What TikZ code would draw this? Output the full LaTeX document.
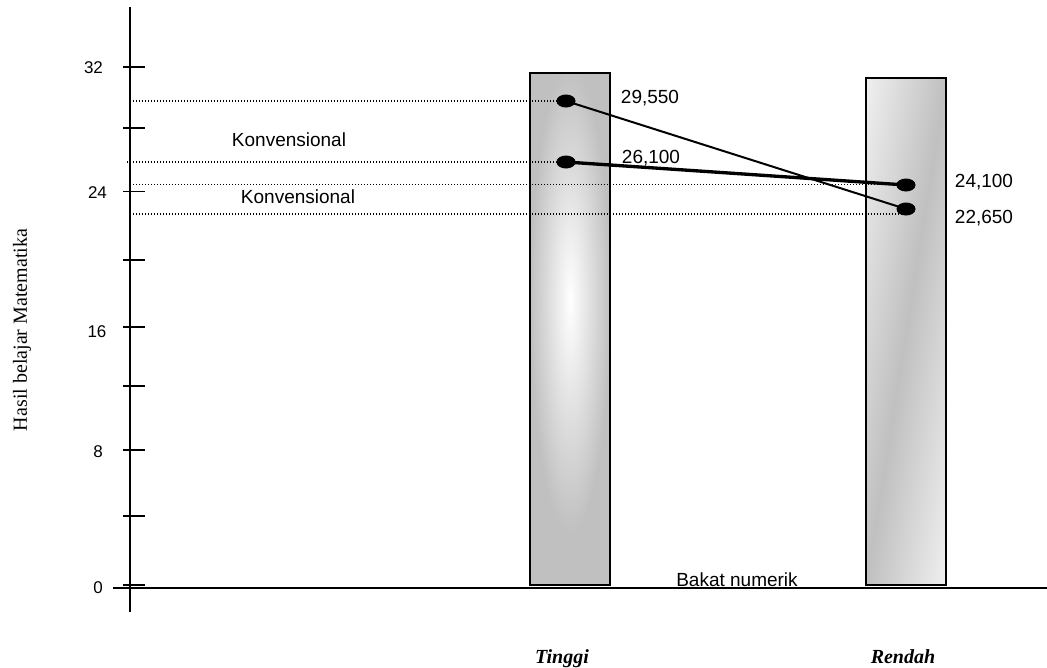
\documentclass[tikz,border=0pt]{standalone}
\usepackage{fontspec}
\setmainfont{Liberation Serif}
\setsansfont{Liberation Sans}
\usetikzlibrary{shapes.geometric}
\definecolor{barg}{HTML}{C0C0C0}
\pgfdeclarehorizontalshading{rendahsh}{100bp}{color(0bp)=(white); color(12bp)=(white); color(50bp)=(barg); color(88bp)=(white); color(100bp)=(white)}
\begin{document}
\begin{tikzpicture}[x=0.75pt,y=-0.75pt,
  axisline/.style={line width=1.5pt},
  tickline/.style={line width=1.3pt},
  guide/.style={line width=0.8pt, dash pattern=on 1pt off 1.25pt},
  barbox/.style={draw=black, line width=1.1pt},
  dot/.style={ellipse, fill=black, inner sep=0pt, minimum width=14.25pt, minimum height=9.75pt},
  sanslab/.style={font=\sffamily\fontsize{14.25}{16}\selectfont, inner sep=0pt, anchor=base},
  ticklab/.style={font=\sffamily\fontsize{12.75}{14}\selectfont, inner sep=0pt, anchor=base},
  catlab/.style={font=\bfseries\itshape\fontsize{15}{17}\selectfont, inner sep=0pt, anchor=base}]
\useasboundingbox (0,0) rectangle (1047,668);

% Tinggi bar
\path[fill=barg] (530,73) rectangle (610,585);
\begin{scope}
  \clip (530,73) rectangle (610,585);
  \shade[inner color=white, outer color=barg] (570,300) ellipse [x radius=30pt, y radius=175pt];
\end{scope}
\draw[barbox] (530,73) rectangle (610,585);

% Rendah bar
\shade[shading=rendahsh, shading angle=-9] (866,78) rectangle (946,585);
\draw[barbox] (866,78) rectangle (946,585);

% axes
\coordinate (ytop) at (130,7);
\coordinate (ybot) at (130,612);
\draw[axisline] (ytop) -- (ybot);
\coordinate (xl) at (113,587.5);
\coordinate (xr) at (1047,587.5);
\draw[axisline] (xl) -- (xr);

\foreach \y in {67,128,191.5,260,327,386,450,516,585}
  \draw[tickline] (123,\y) -- (145,\y);

\node[ticklab] (t32) at (93.5,73) {32};
\node[ticklab] (t24) at (97.5,198) {24};
\node[ticklab] (t16) at (97,337) {16};
\node[ticklab] (t8) at (98,457) {8};
\node[ticklab] (t0) at (98,593) {0};

% points
\node[dot] (p1) at (566,101) {};
\node[dot] (p2) at (566,162) {};
\node[dot] (p3) at (906,185) {};
\node[dot] (p4) at (906,209) {};

% dotted guides
\coordinate (g1) at (133,101);
\coordinate (g2) at (127,162);
\coordinate (g3) at (133,184.5);
\coordinate (g4) at (133,214);
\draw[guide] (g1) -- (g1 -| p1.center);
\draw[guide] (g2) -- (g2 -| p2.center);
\draw[guide] (g3) -- (g3 -| p3.center);
\draw[guide] (g4) -- (g4 -| p4.center);

% connectors
\draw[line width=1.5pt] (p1.center) -- (p4.center);
\draw[line width=2.5pt] (p2.center) -- (p3.center);

% value labels
\node[sanslab] (l1) at (650,103) {29,550};
\node[sanslab] (l2) at (651,163) {26,100};
\node[sanslab] (l3) at (984,187) {24,100};
\node[sanslab] (l4) at (984,223) {22,650};

\node[sanslab] (k1) at (289,146) {Konvensional};
\node[sanslab] (k2) at (298,203) {Konvensional};
\node[sanslab] (bn) at (737,586) {Bakat numerik};

\node[catlab] (tg) at (562,663) {Tinggi};
\node[catlab] (rd) at (903,663) {Rendah};

\node[font=\fontsize{15}{17}\selectfont, rotate=90, inner sep=0pt] (yl) at (22,330) {Hasil belajar Matematika};
\end{tikzpicture}
\end{document}
